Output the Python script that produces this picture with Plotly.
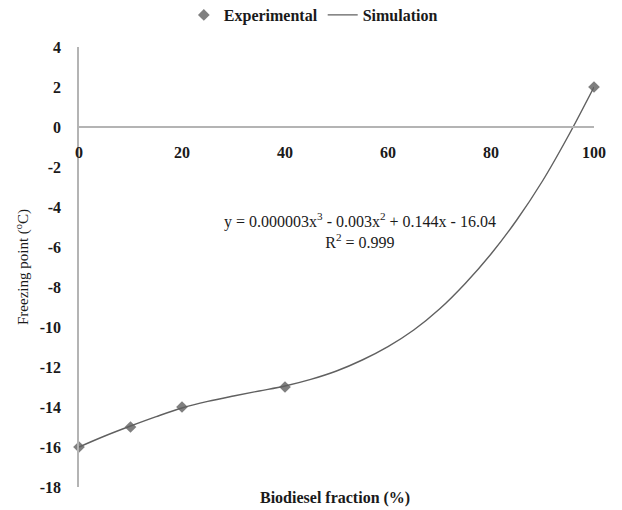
import plotly.graph_objects as go

# Measured freezing points of biodiesel blends
exp_fraction = [0, 10, 20, 40, 100]
exp_freezing = [-16, -15, -14, -13, 2]

# Simulated freezing-point curve
sim_fraction = [0, 5, 10, 15, 20, 25, 30, 35, 40, 45, 50, 55, 60, 65, 70, 75, 80, 85, 90, 95, 100]
sim_freezing = [-16.0, -15.45, -14.95, -14.48, -14.05, -13.72, -13.45, -13.2, -12.95,
                -12.62, -12.2, -11.65, -10.98, -10.15, -9.1, -7.82, -6.35, -4.65, -2.7, -0.45, 2.0]

x_ticks = [0, 20, 40, 60, 80, 100]
y_ticks = [4, 2, 0, -2, -4, -6, -8, -10, -12, -14, -16, -18]

FONT = "Liberation Serif"
AXIS_GREY = "#b4b4b4"
TEXT = "#1a1a1a"

fig = go.Figure()

fig.add_trace(go.Scatter(
    x=exp_fraction, y=exp_freezing, mode="markers", name="Experimental",
    marker=dict(symbol="diamond", size=9, color="#7f7f7f"),
    cliponaxis=False,
))
fig.add_trace(go.Scatter(
    x=sim_fraction, y=sim_freezing, mode="lines", name="Simulation",
    line=dict(color="#606060", width=1.4, shape="spline", smoothing=1.0),
    cliponaxis=False,
))

fig.update_layout(
    width=622, height=510,
    margin=dict(l=79, r=28, t=47, b=23, autoexpand=False),
    paper_bgcolor="white", plot_bgcolor="white",
    font=dict(family=FONT, size=16, color=TEXT),
    showlegend=True,
    legend=dict(
        orientation="h", x=0.455, xanchor="center",
        yref="container", y=1 - 15 / 510, yanchor="middle",
        font=dict(family=FONT, size=16, color=TEXT, weight="bold"),
        itemwidth=30, tracegroupgap=0,
    ),
    xaxis=dict(
        range=[0, 100], tickvals=x_ticks, ticktext=[str(v) for v in x_ticks],
        showgrid=False, zeroline=False, showline=True, linecolor=AXIS_GREY, linewidth=1.5,
        anchor="free", position=18 / 22, ticks="", ticklabelstandoff=11,
        tickfont=dict(family=FONT, size=16, weight="bold", color=TEXT),
    ),
    yaxis=dict(
        range=[-18, 4], tickvals=y_ticks, ticktext=[str(v) for v in y_ticks],
        showgrid=False, zeroline=False, showline=True, linecolor=AXIS_GREY, linewidth=1.5,
        ticks="", ticklabelstandoff=13,
        tickfont=dict(family=FONT, size=16, weight="bold", color=TEXT),
    ),
    annotations=[
        dict(
            text="y = 0.000003x<sup>3</sup> - 0.003x<sup>2</sup> + 0.144x - 16.04<br>R<sup>2</sup> = 0.999",
            x=54.6, y=-5.15, xref="x", yref="y", showarrow=False, align="center",
            font=dict(family=FONT, size=16, color=TEXT),
        ),
        dict(
            text="Biodiesel fraction (%)",
            x=(335 - 79) / 515, y=(487 - 498) / 440, xref="paper", yref="paper",
            showarrow=False, xanchor="center", yanchor="middle",
            font=dict(family=FONT, size=16, color=TEXT, weight="bold"),
        ),
        dict(
            text="Freezing point (<sup>o</sup>C)",
            x=(22 - 79) / 515, y=0.5, xref="paper", yref="paper", textangle=-90,
            showarrow=False, xanchor="center", yanchor="middle",
            font=dict(family=FONT, size=15, color=TEXT),
        ),
    ],
)

fig.write_html("out.html")
